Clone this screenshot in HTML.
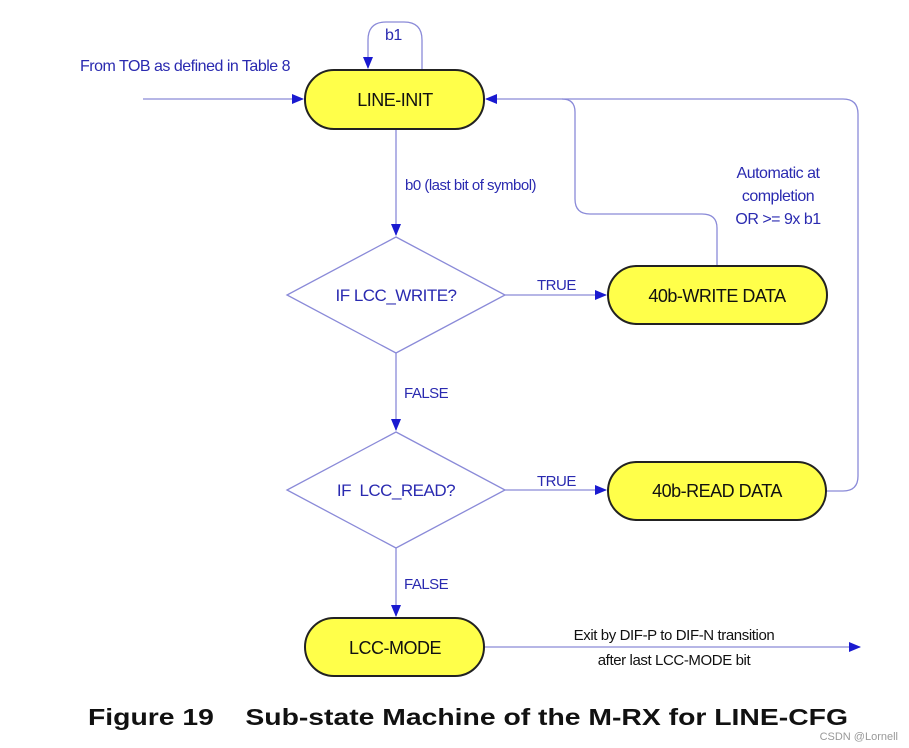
<!DOCTYPE html>
<html><head><style>body{margin:0;background:#fff}svg{display:block}</style></head><body>
<svg width="909" height="748" xmlns="http://www.w3.org/2000/svg" font-family="Liberation Sans, sans-serif">
<defs><marker id="a" markerWidth="12" markerHeight="10" refX="11" refY="5" orient="auto" markerUnits="userSpaceOnUse"><path d="M0,0 L12,5 L0,10 z" fill="#1a1ad0"/></marker></defs>
<g fill="none" stroke="#8a8ad8" stroke-width="1.3">
<line x1="143" y1="99" x2="303" y2="99" marker-end="url(#a)"/>
<path d="M422,70 V40 Q422,22 404,22 H386 Q368,22 368,40 V68" marker-end="url(#a)"/>
<line x1="396" y1="129" x2="396" y2="235" marker-end="url(#a)"/>
<line x1="396" y1="353" x2="396" y2="430" marker-end="url(#a)"/>
<line x1="396" y1="548" x2="396" y2="616" marker-end="url(#a)"/>
<line x1="505" y1="295" x2="606" y2="295" marker-end="url(#a)"/>
<line x1="505" y1="490" x2="606" y2="490" marker-end="url(#a)"/>
<line x1="484" y1="647" x2="860" y2="647" marker-end="url(#a)"/>
<path d="M826,491 H843 Q858,491 858,476 V114 Q858,99 843,99 H486" marker-end="url(#a)"/>
<path d="M717,266 V228 Q717,214 702,214 H590 Q575,214 575,199 V112 Q575,99 562,99"/>
<polygon points="396,237 505,295 396,353 287,295"/>
<polygon points="396,432 505,490 396,548 287,490"/>
</g>
<g fill="#ffff4a" stroke="#222" stroke-width="2">
<rect x="305" y="70" width="179" height="59" rx="29"/>
<rect x="608" y="266" width="219" height="58" rx="29"/>
<rect x="608" y="462" width="218" height="58" rx="29"/>
<rect x="305" y="618" width="179" height="58" rx="29"/>
</g>
<g font-size="18" fill="#111" text-anchor="middle" letter-spacing="-0.5">
<text x="395" y="106">LINE-INIT</text>
<text x="717" y="302">40b-WRITE DATA</text>
<text x="717" y="497">40b-READ DATA</text>
<text x="395" y="654">LCC-MODE</text>
</g>
<g fill="#2a2ab0" font-size="16" letter-spacing="-0.5">
<text x="80" y="71">From TOB as defined in Table 8</text>
<text x="385" y="40">b1</text>
<text x="405" y="190" font-size="15">b0 (last bit of symbol)</text>
<text x="396" y="301" text-anchor="middle" font-size="17">IF LCC_WRITE?</text>
<text x="396" y="496" text-anchor="middle" font-size="17" xml:space="preserve">IF  LCC_READ?</text>
<text x="537" y="290" font-size="15">TRUE</text>
<text x="537" y="486" font-size="15">TRUE</text>
<text x="404" y="398" font-size="15">FALSE</text>
<text x="404" y="589" font-size="15">FALSE</text>
<text x="778" y="178" text-anchor="middle">Automatic at</text>
<text x="778" y="201" text-anchor="middle">completion</text>
<text x="778" y="224" text-anchor="middle">OR &gt;= 9x b1</text>
</g>
<g fill="#111" font-size="15" text-anchor="middle" letter-spacing="-0.4">
<text x="674" y="640">Exit by DIF-P to DIF-N transition</text>
<text x="674" y="665">after last LCC-MODE bit</text>
</g>
<text x="88" y="725" font-size="23" font-weight="bold" fill="#111" xml:space="preserve" textLength="760" lengthAdjust="spacingAndGlyphs">Figure 19    Sub-state Machine of the M-RX for LINE-CFG</text>
<text x="898" y="740" font-size="11" fill="#999" text-anchor="end">CSDN @Lornell</text>
</svg>
</body></html>
